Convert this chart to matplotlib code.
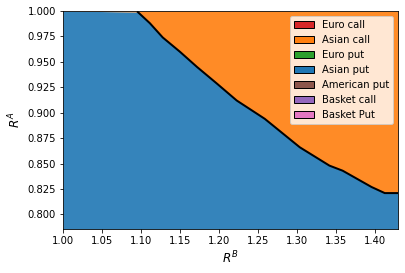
import matplotlib
matplotlib.use("Agg")
import matplotlib.pyplot as plt
from matplotlib.patches import Patch
import numpy as np

# boundary between the two regions
rb = [1.000, 1.096, 1.1115, 1.128, 1.150, 1.172, 1.197, 1.223, 1.259, 1.304,
      1.342, 1.359, 1.396, 1.413, 1.430]
ra = [1.000, 0.999, 0.988, 0.974, 0.960, 0.945, 0.929, 0.912, 0.894, 0.866,
      0.848, 0.843, 0.827, 0.821, 0.821]

labels = ['Euro call', 'Asian call', 'Euro put', 'Asian put',
          'American put', 'Basket call', 'Basket Put']
colors = ['tab:red', 'tab:orange', 'tab:green', 'tab:blue',
          'tab:brown', 'tab:purple', 'tab:pink']

ymin, ymax = 0.7857, 1.0
xmin, xmax = 1.0, 1.43

fig = plt.figure(figsize=(405 / 72, 273 / 72), dpi=72)
ax = fig.add_axes([63 / 405, 1 - 229 / 273, (398 - 63) / 405, (229 - 11) / 273])

rb_a = np.array(rb)
ra_a = np.minimum(np.array(ra), ymax)
ax.fill_between(rb_a, ymin, ra_a, color='tab:blue', alpha=0.9, lw=0)
ax.fill_between(rb_a, ra_a, ymax, color='tab:orange', alpha=0.9, lw=0)
ax.plot(rb[1:], ra[1:], color='black', lw=2)

ax.set_xlim(xmin, xmax)
ax.set_ylim(ymin, ymax)
ax.set_xticks(np.arange(1.0, 1.41, 0.05))
ax.set_yticks(np.arange(0.8, 1.001, 0.025))
ax.tick_params(labelsize=10)
ax.set_xlabel('$R^B$', fontsize=12)
ax.set_ylabel('$R^A$', fontsize=12)

handles = [Patch(facecolor=c, edgecolor='black', label=l) for c, l in zip(colors, labels)]
ax.legend(handles=handles, loc='upper right', fontsize=10)

fig.savefig('out.png', dpi=72)
